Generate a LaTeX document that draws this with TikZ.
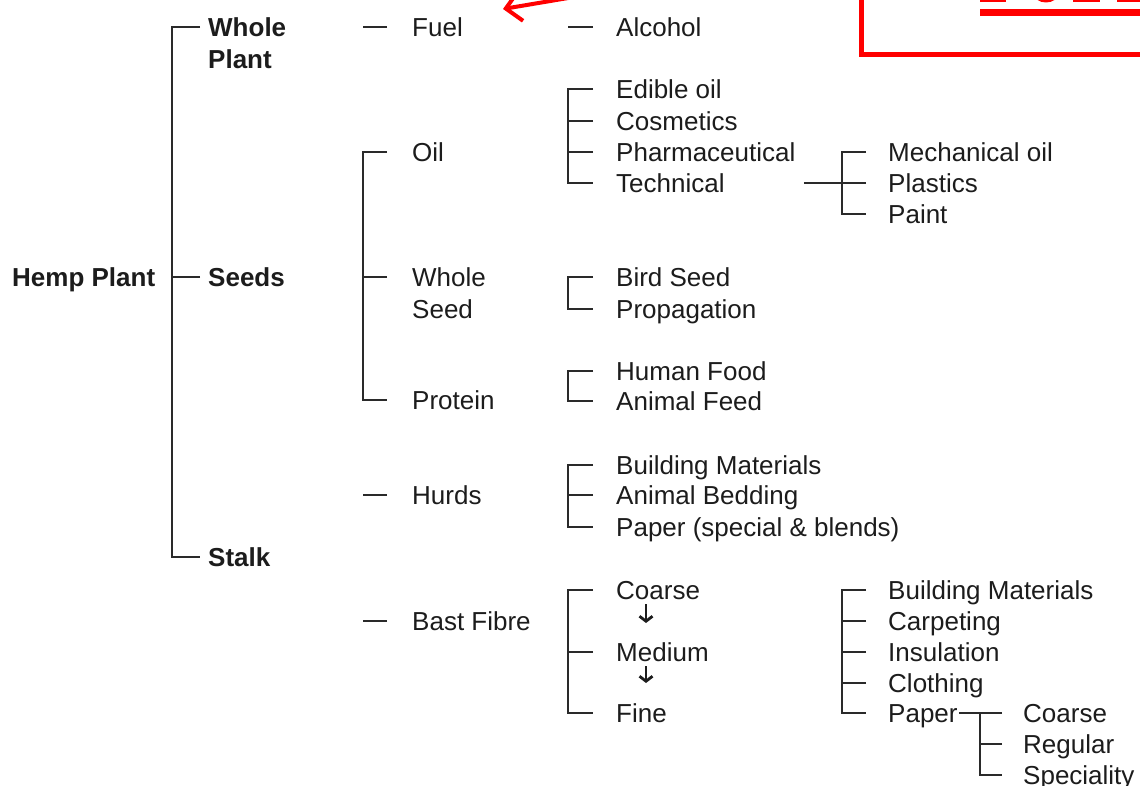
\documentclass[tikz,border=0pt]{standalone}
\usepackage{fontspec}
\setmainfont{Liberation Sans}
\usetikzlibrary{arrows.meta,positioning}
\definecolor{HempInk}{HTML}{1C1C1C}
\definecolor{HempLine}{HTML}{2A2A2A}
\definecolor{HempRed}{HTML}{FF0000}

\begin{document}
\begin{tikzpicture}[x=1pt,y=-1pt,
  every node/.style={anchor=west,inner sep=0pt,text height=18.6pt,text depth=0pt,
    align=left,text=HempInk,font=\fontsize{26}{32}\selectfont},
  part/.style={font=\fontsize{26}{32}\selectfont\bfseries},
  tree/.style={draw=HempLine,line width=1.6pt},
  gradearrow/.style={draw=HempInk,line width=2.8pt,-{Straight Barb[length=5pt,width=13pt]}},
  callout/.style={draw=HempRed,line width=4pt}]
\useasboundingbox (0,0) rectangle (1140,786);
\clip (0,0) rectangle (1140,786);

% plant parts (two-line nodes sit on their last line)
\node[part] (hemp) at (12,277) {Hemp Plant};
\node[part] (wplant) at (208,59) {Whole\\Plant};
\node[part] (seeds) at (208,277) {Seeds};
\node[part] (stalk) at (208,557) {Stalk};

% first products
\node (fuel) at (412,27) {Fuel};
\node (oil) at (412,152) {Oil};
\node (wseed) at (412,309) {Whole\\Seed};
\node (protein) at (412,400) {Protein};
\node (hurds) at (412,495) {Hurds};
\node (bast) at (412,621) {Bast Fibre};

% uses
\node (alcohol) at (616,27) {Alcohol};
\node (edible) at (616,89) {Edible oil};
\node (cosm) at (616,121) {Cosmetics};
\node (pharma) at (616,152) {Pharmaceutical};
\node (techn) at (616,183) {Technical};
\node (bird) at (616,277) {Bird Seed};
\node (prop) at (616,309) {Propagation};
\node (human) at (616,371) {Human Food};
\node (animal) at (616,401) {Animal Feed};
\node (build) at (616,465) {Building Materials};
\node (bedding) at (616,495) {Animal Bedding};
\node (hpaper) at (616,527) {Paper (special \& blends)};
\node (coarse) at (616,590) {Coarse};
\node (medium) at (616,652) {Medium};
\node (fine) at (616,713) {Fine};

% technical oil and fibre uses
\node (mech) at (888,152) {Mechanical oil};
\node (plast) at (888,183) {Plastics};
\node (paint) at (888,214) {Paint};
\node (bmat) at (888,590) {Building Materials};
\node (carpet) at (888,621) {Carpeting};
\node (insul) at (888,652) {Insulation};
\node (cloth) at (888,683) {Clothing};
\node (bpaper) at (888,713) {Paper};
\node (pcoarse) at (1023,713) {Coarse};
\node (regular) at (1023,744) {Regular};
\node (special) at (1023,775) {Speciality};

% Hemp Plant bracket
\draw[tree] ([xshift=-8,yshift=32]wplant.west) -- ++(-28,0) |- ([xshift=-8]stalk.west);
\draw[tree] ([xshift=-8]seeds.west) -- ++(-28,0);

% single dashes
\foreach \n in {fuel,hurds,bast}
  \draw[tree] ([xshift=-25]\n.west) -- ++(-24,0);
\draw[tree] ([xshift=-23]alcohol.west) -- ++(-25,0);

% Seeds bracket
\draw[tree] ([xshift=-25]oil.west) -- ++(-24,0) |- ([xshift=-25]protein.west);
\draw[tree] ([xshift=-25,yshift=32]wseed.west) -- ++(-24,0);

% column 4 brackets
\foreach \a/\b/\mids in {edible/techn/{cosm,pharma},bird/prop/{},human/animal/{},build/hpaper/{bedding},coarse/fine/{medium}} {
  \draw[tree] ([xshift=-23]\a.west) -- ++(-25,0) |- ([xshift=-23]\b.west);
  \foreach \m in \mids
    \draw[tree] ([xshift=-23]\m.west) -- ++(-25,0);
}

% column 5 brackets
\draw[tree] ([xshift=79]techn.east) -- ([xshift=-22]plast.west);
\foreach \a/\b/\mids in {mech/paint/{plast},bmat/bpaper/{carpet,insul,cloth}} {
  \draw[tree] ([xshift=-22]\a.west) -- ++(-24,0) |- ([xshift=-22]\b.west);
  \foreach \m in \mids
    \draw[tree] ([xshift=-22]\m.west) -- ++(-24,0);
}

% paper grades
\draw[tree] ([xshift=1]bpaper.east) -- ([xshift=-21]pcoarse.west);
\draw[tree] ([xshift=-21]pcoarse.west) -- ++(-22,0) |- ([xshift=-21]special.west);
\draw[tree] ([xshift=-21]regular.west) -- ++(-22,0);

% fibre grading
\draw[gradearrow] ([xshift=30,yshift=-14]coarse.west) -- ([xshift=30,yshift=29]medium.west);
\draw[gradearrow] ([xshift=30,yshift=-14]medium.west) -- ([xshift=30,yshift=30]fine.west);

% red callout
\coordinate (fueltail) at (580,-4);
\coordinate (fueltip) at (503,9);
\draw[callout,-{Straight Barb[length=15pt,width=30pt]}] (fueltail) -- (fueltip);
\draw[callout,line width=5pt] (861,-10) -- (861,55) -- (1150,55);
\fill[HempRed] (980,9) rectangle (1140,16);
\fill[HempRed] (980,-2) rectangle (1006,2.5);
\fill[HempRed] (1046,-6) ellipse (12 and 8.5);
\fill[HempRed] (1073,-2) rectangle (1100,2.5);
\fill[HempRed] (1117,-2) rectangle (1140,2.5);
\end{tikzpicture}
\end{document}
